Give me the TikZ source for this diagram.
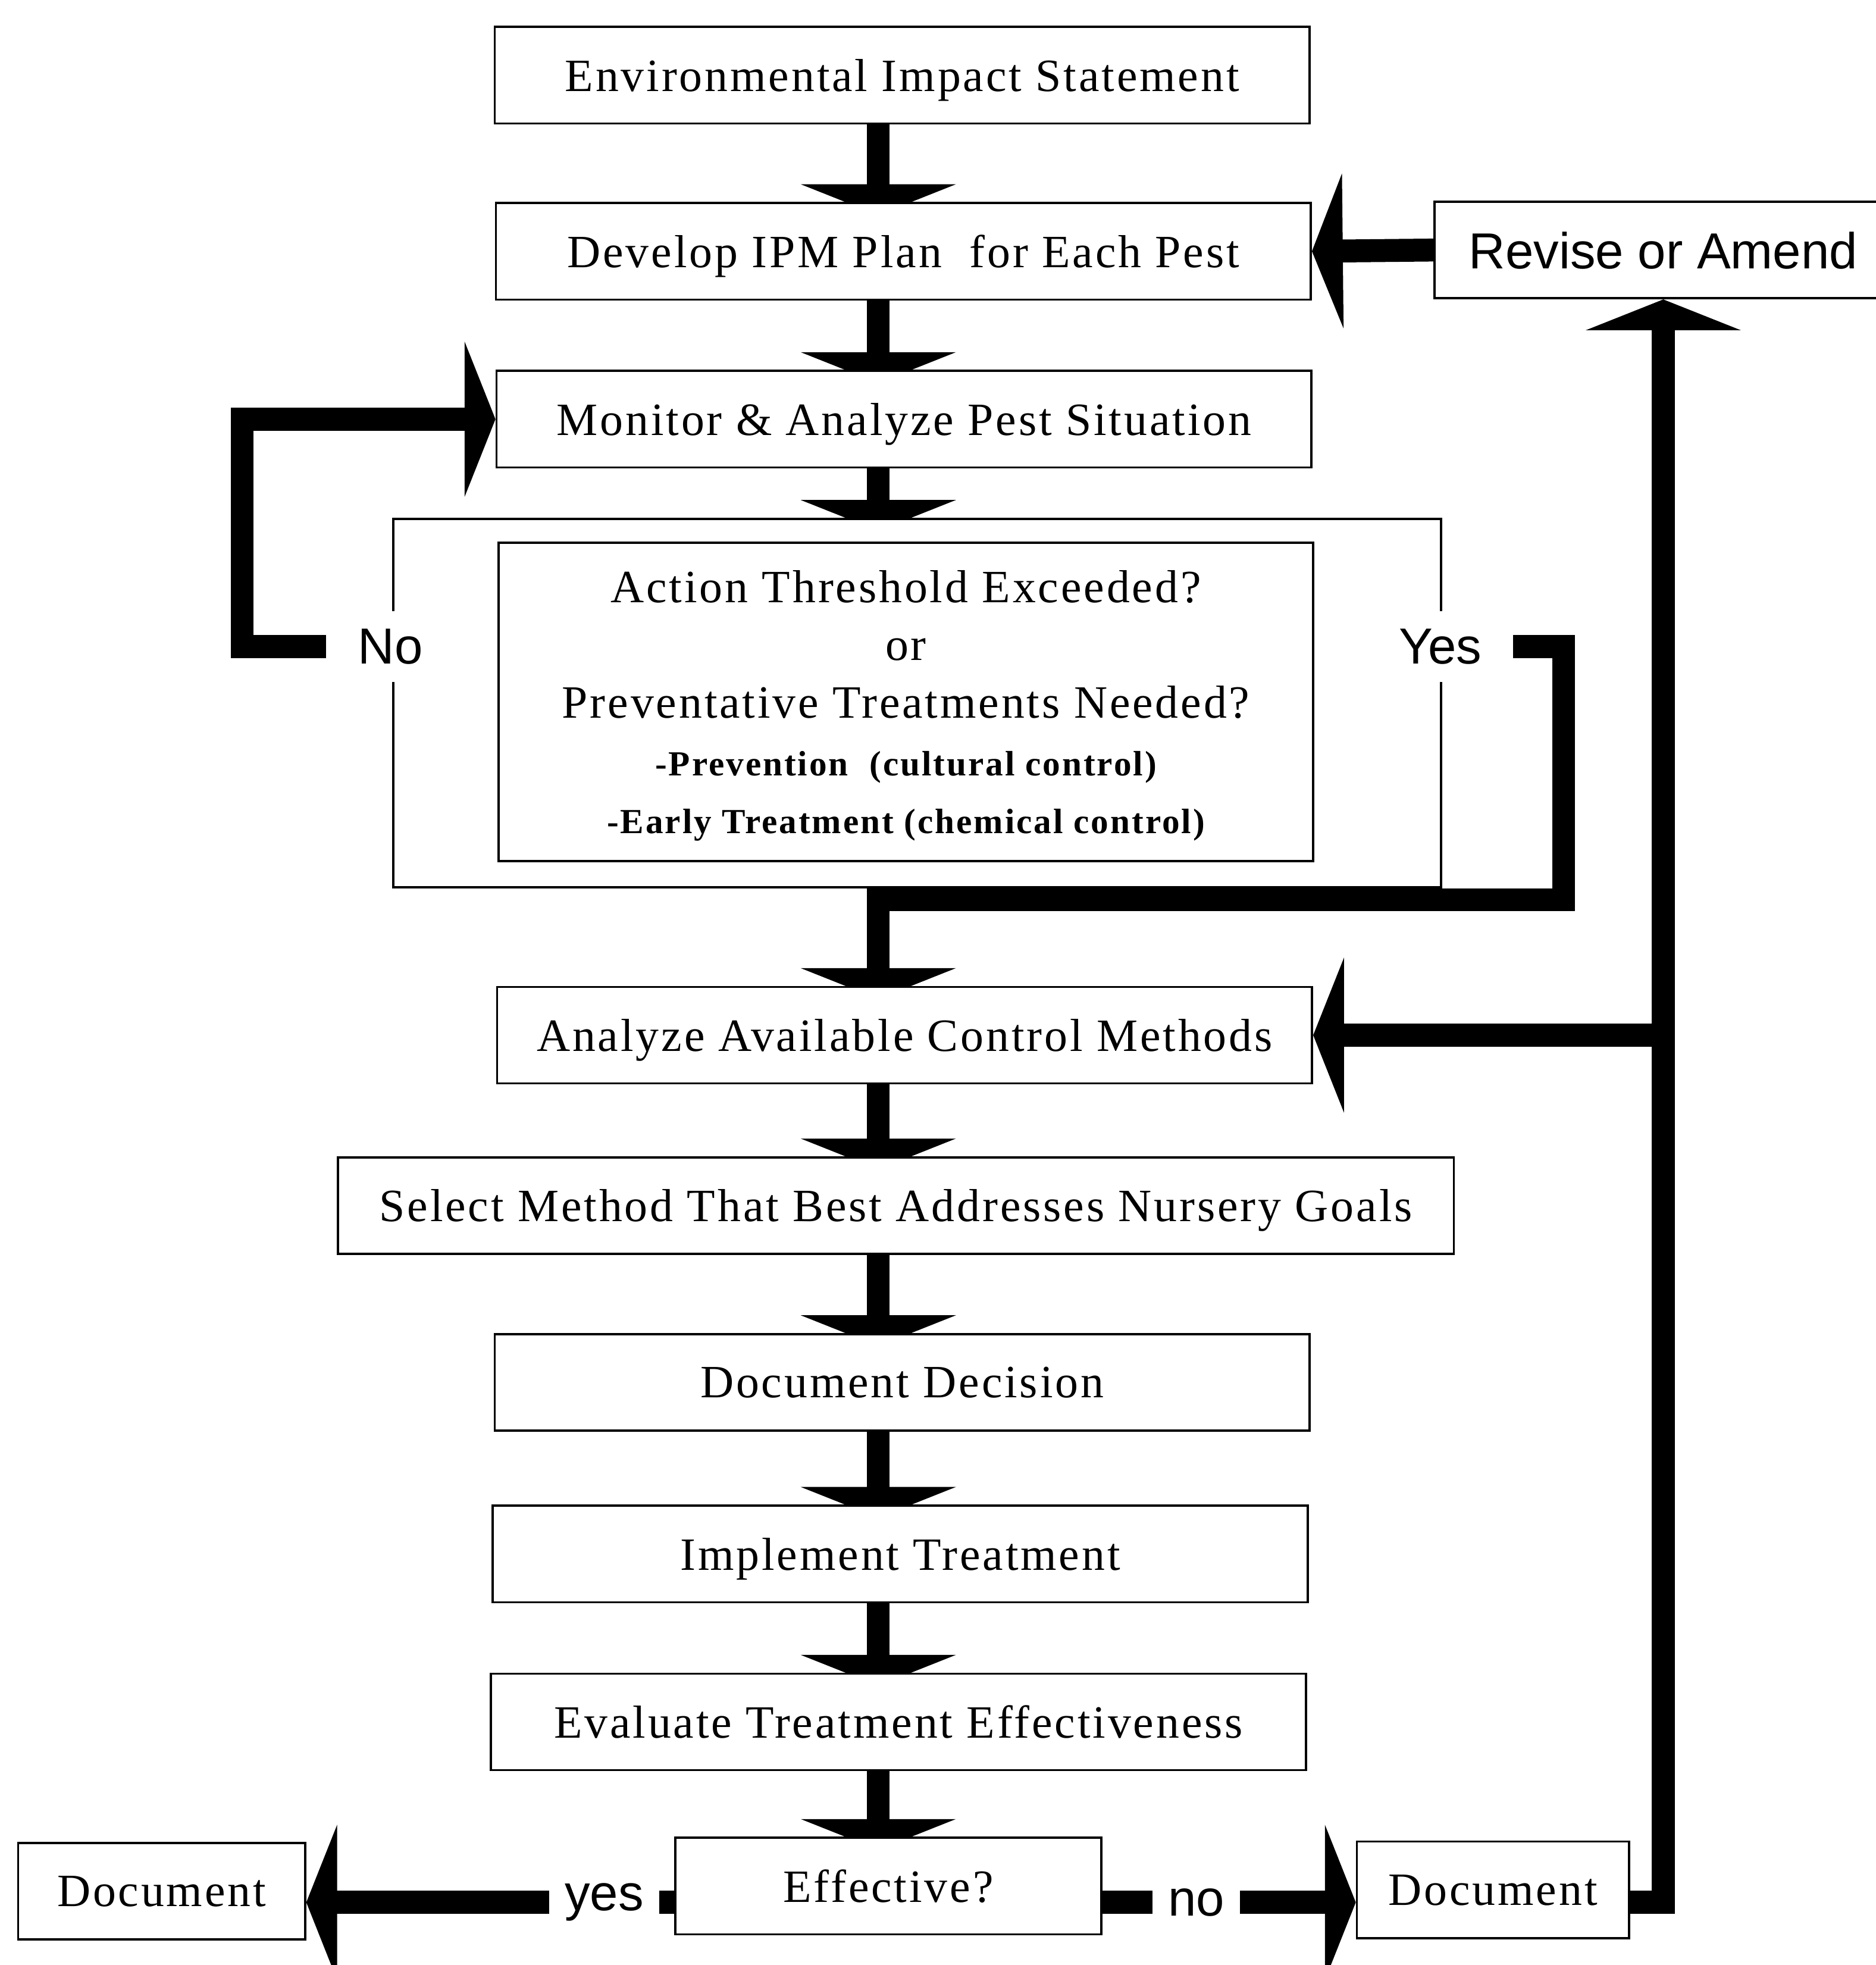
\documentclass[tikz,border=0pt]{standalone}
\usepackage{fontspec}
\setmainfont{Liberation Serif}[LetterSpace=5]
\newfontfamily\sansfnt{Liberation Sans}
\usetikzlibrary{arrows.meta,backgrounds}
\tikzstyle{box}=[draw, fill=white, line width=0.5pt, minimum width=6.5cm, minimum height=0.77cm, inner sep=0pt, text depth=0pt, font=\fontsize{10.5}{13.1}\selectfont]
\tikzstyle{bigbox}=[draw, fill=white, line width=0.5pt, inner sep=0pt]
\tikzstyle{labsty}=[font=\sansfnt\fontsize{11.5}{13}\selectfont]
\tikzstyle{gaplab}=[labsty, fill=white, inner xsep=7pt, inner ysep=4pt]
\tikzstyle{pathlab}=[labsty, fill=white, inner sep=3.5pt]
\tikzstyle{flow}=[line width=5.2pt, line join=miter, -{Triangle[width=35pt,length=7pt]}]
\tikzstyle{dflow}=[flow, shorten >=-3pt]
\newcommand{\smallline}[1]{{\fontsize{8}{10}\selectfont\bfseries #1}}

\begin{document}
\begin{tikzpicture}[x=0.01cm, y=-0.01cm]
	\useasboundingbox (0,0) rectangle (1497,1568);
	\coordinate (ax) at (701,0);
	\coordinate (brow) at (0,1518);
	\coordinate (ycorner) at (1248,718);
	
	\node[box] (env) at (720,60) {Environmental Impact Statement};
	\node[box] (ipm) at (721,200.5) {Develop IPM Plan\ \ for Each Pest};
	\node[box, minimum width=3.65cm, labsty] (rev) at (1327.5,199.5) {Revise or Amend};
	\node[box] (mon) at (721.5,334.5) {Monitor \& Analyze Pest Situation};
	\node[bigbox, minimum width=8.36cm, minimum height=2.94cm] (dec) at (732,561) {};
	\node[box, minimum height=2.54cm, align=center] (decin) at (723,560) {Action Threshold Exceeded?\\or\\Preventative Treatments Needed?\\\smallline{-Prevention\ \ (cultural control)}\\\smallline{-Early Treatment (chemical control)}};
	\node[gaplab] (nolab) at (311.5,516) {No};
	\node[gaplab] (yeslab) at (1149.5,516) {Yes};
	\node[box] (anal) at (722,826) {Analyze Available Control Methods};
	\node[box, minimum width=8.9cm] (sel) at (715,962) {Select Method That Best Addresses Nursery Goals};
	\node[box] (docdec) at (720,1103) {Document Decision};
	\node[box] (impl) at (718.5,1240) {Implement Treatment};
	\node[box] (eval) at (717,1374) {Evaluate Treatment Effectiveness};
	\node[box, minimum width=3.4cm] (eff) at (709,1505) {Effective?};
	\node[box, minimum width=2.29cm] (docl) at (129,1509) {Document};
	\node[box, minimum width=2.17cm] (docr) at (1191.5,1508) {Document};
	
	\begin{scope}[on background layer]
		\draw[dflow] (env.south -| ax) -- (ipm.north -| ax);
		\draw[dflow] (ipm.south -| ax) -- (mon.north -| ax);
		\draw[dflow] (mon.south -| ax) -- (dec.north -| ax);
		\draw[dflow] (anal.south -| ax) -- (sel.north -| ax);
		\draw[dflow] (sel.south -| ax) -- (docdec.north -| ax);
		\draw[dflow] (docdec.south -| ax) -- (impl.north -| ax);
		\draw[dflow] (impl.south -| ax) -- (eval.north -| ax);
		\draw[dflow] (eval.south -| ax) -- (eff.north -| ax);
		
		\draw[flow] (nolab.west) -| ([xshift=-2.02cm]mon.west) -- (mon.west);
		\draw[dflow] (yeslab.east) -| (ycorner) -| (anal.north -| ax);
		
		\draw[flow] (rev.west) -- (ipm.east);
		\draw[flow] (anal.east -| rev.south) -- (anal.east);
		\draw[flow] (docr.east |- brow) -| (rev.south);
		
		\draw[flow] (eff.west |- brow) -- node[pathlab, pos=0.19] (yeslow) {yes} (docl.east |- brow);
		\draw[flow] (eff.east |- brow) -- node[pathlab, pos=0.37] (nolow) {no} (docr.west |- brow);
	\end{scope}
\end{tikzpicture}
\end{document}
